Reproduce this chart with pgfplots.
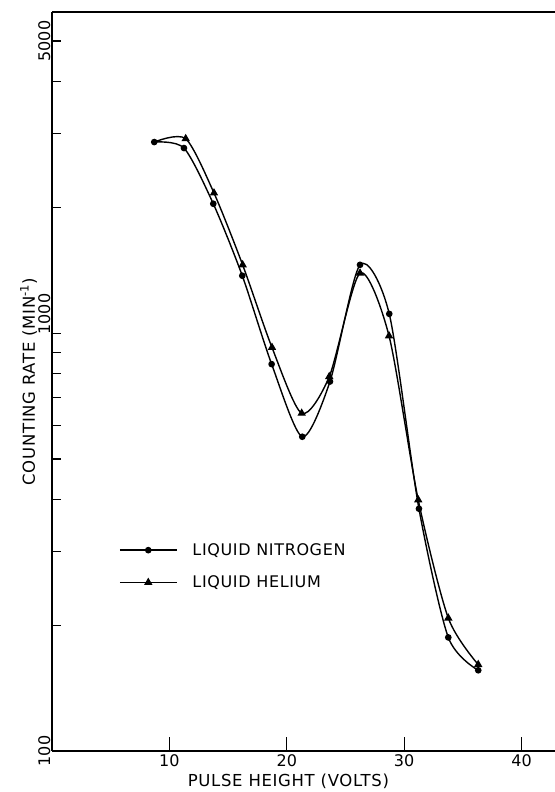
\documentclass[border=0pt]{standalone}
\usepackage{fontspec}
\setmainfont{DejaVu Sans}[LetterSpace=4]
\newfontfamily\tickfont{DejaVu Sans}
\usepackage{pgfplots}
\pgfplotsset{compat=1.18}

\begin{document}
\begin{tikzpicture}
\begin{semilogyaxis}[
  name=ax,
  scale only axis,
  width=503pt, height=739pt,
  xmin=0, xmax=42.85,
  ymin=100, ymax=5869,
  axis lines*=left,
  axis line style={line width=1.3pt},
  clip=false,
  tick align=inside,
  major tick length=14pt,
  minor tick length=9pt,
  every tick/.style={black, line width=1.2pt},
  xtick={10,20,30,40},
  xticklabels={10,20,30,40},
  ytick={100,1000,5000},
  yticklabels={100,{\hspace*{38pt}1000},5000},
  minor ytick={200,300,400,500,600,700,800,900,1000,2000,3000,4000,5000},
  major y tick style={draw=none},
  xticklabel style={font=\tickfont\fontsize{16}{19}\selectfont, inner sep=1pt, yshift=-2pt},
  yticklabel style={font=\tickfont\fontsize{16}{19}\selectfont, rotate=90, anchor=south, inner sep=1.5pt},
  xlabel={PULSE HEIGHT (VOLTS)},
  ylabel={COUNTING RATE (MIN\textsuperscript{-1})},
  label style={font=\fontsize{16.5}{20}\selectfont},
  xlabel style={at={([yshift=-36pt]axis description cs:0.47,0)}, anchor=base},
  ylabel style={at={([xshift=-17pt]axis description cs:0,0.5)}, anchor=base},
  legend style={at={(axis description cs:0.127,0.2865)}, anchor=north west,
    draw=none, fill=none, font=\fontsize{16}{19}\selectfont, row sep=15pt,
    /tikz/every odd column/.append style={column sep=13pt}},
  legend cell align=left,
  legend image code/.code={\draw[mark repeat=2,mark phase=2] plot coordinates {(0pt,0pt) (28.5pt,0pt) (57pt,0pt)};},
]
% liquid nitrogen
\addplot[black, line width=1.4pt, smooth, tension=0.45, mark=*, mark size=2.6pt,
  mark options={solid}] coordinates {
  (8.71,2866) (11.24,2773) (13.74,2040) (16.21,1372) (18.71,843)
  (21.32,565) (23.68,766) (26.24,1457) (28.73,1112) (31.26,380)
  (33.76,187) (36.31,156)
};
\addlegendentry{LIQUID NITROGEN}
% liquid helium
\addplot[black, line width=1.4pt, smooth, tension=0.45, mark=triangle*, mark size=3.5pt,
  mark phase=2, mark options={solid}] coordinates {
  (8.71,2866) (11.39,2919) (13.80,2164) (16.24,1457) (18.74,924)
  (21.27,643) (23.62,787) (26.24,1392) (28.71,985) (31.20,399)
  (33.76,208) (36.31,161)
};
\addlegendentry{LIQUID HELIUM}
\draw[line width=1.3pt] (rel axis cs:0,1) -- (rel axis cs:1,1);
\end{semilogyaxis}
\pgfresetboundingbox
\path ([shift={(-52pt,-41pt)}]ax.south west) rectangle ([shift={(0pt,12pt)}]ax.north east);
\end{tikzpicture}
\end{document}
